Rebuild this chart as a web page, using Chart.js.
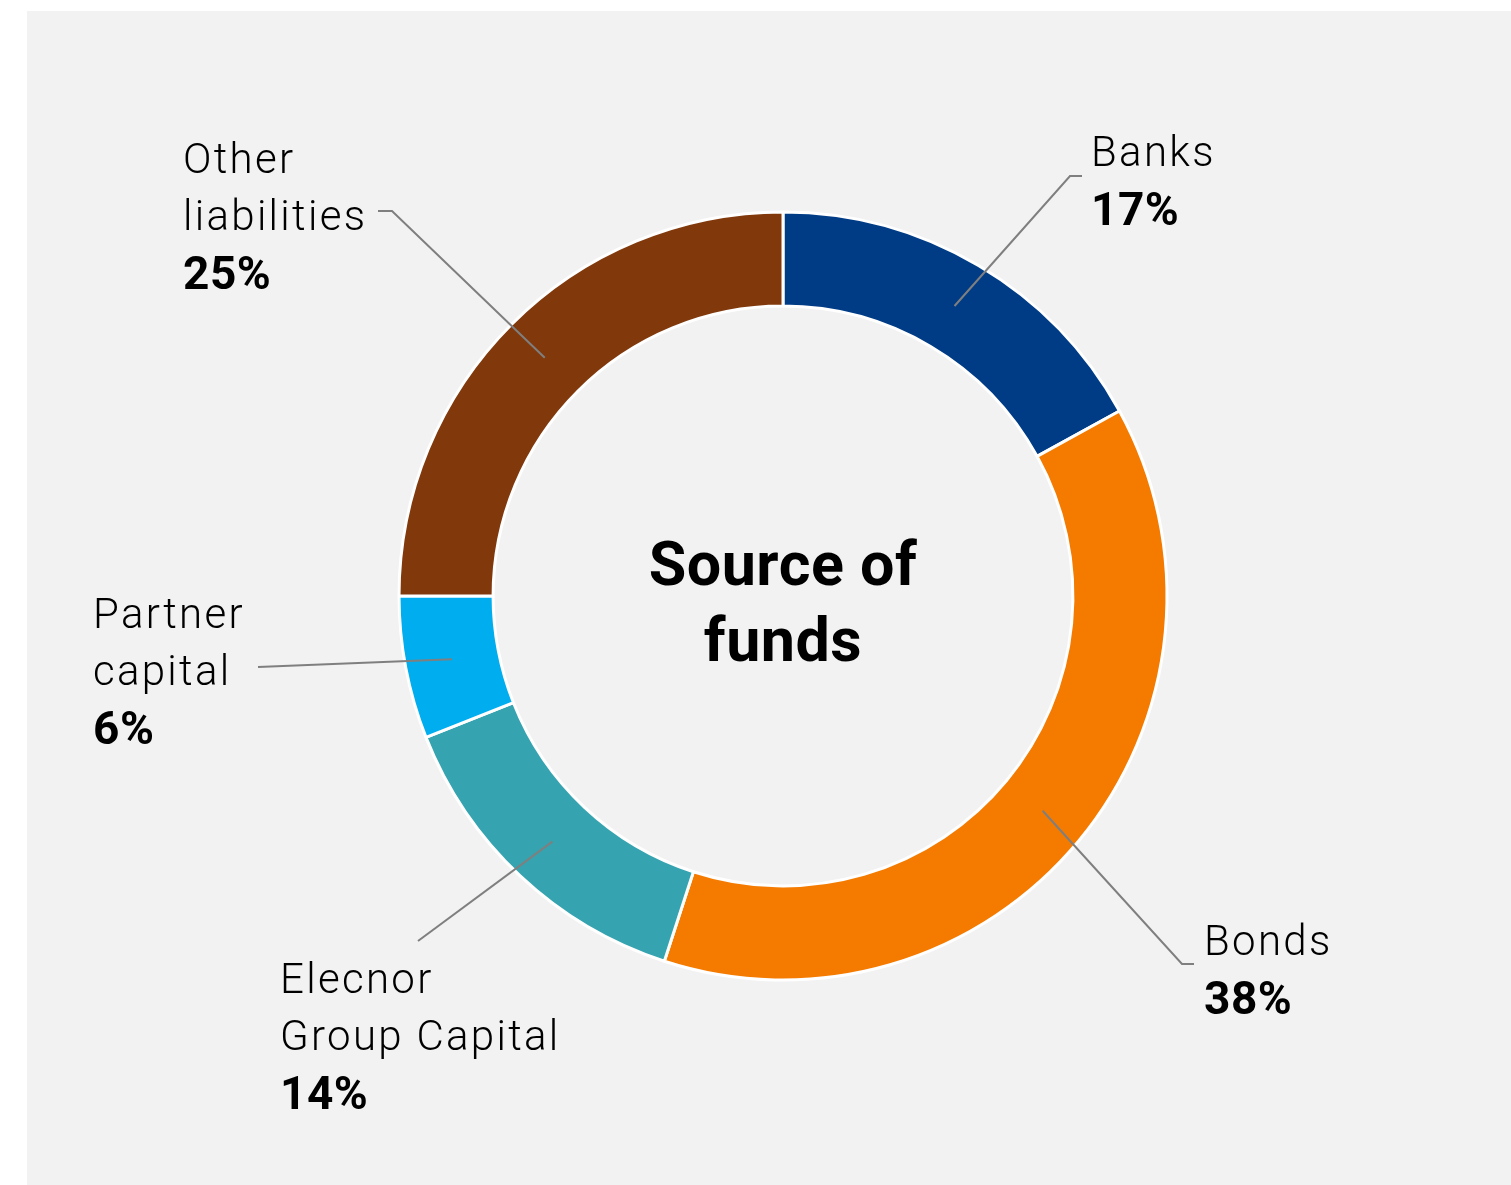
<!DOCTYPE html>
<html>
<head>
<meta charset="utf-8">
<script src="https://cdn.jsdelivr.net/npm/chart.js@4"></script>
<style>
  html, body { margin: 0; padding: 0; background: #ffffff; }
  #bg { position: absolute; left: 27px; top: 11px; right: 0; bottom: 0; background: #f2f2f2; }
  #wrap { position: absolute; left: 0; top: 0; width: 1511px; height: 1185px; }
</style>
</head>
<body>
<div id="bg"></div>
<div id="wrap"><canvas id="funds"></canvas></div>
<script>
// chart data
const categories = ["Banks", "Bonds", "Elecnor Group Capital", "Partner capital", "Other liabilities"];
const shares = [17, 38, 14, 6, 25];
const labelLines = [["Banks"], ["Bonds"], ["Elecnor", "Group Capital"], ["Partner", "capital"], ["Other", "liabilities"]];
const sliceColors = ["#003c86", "#f47b00", "#36a4b0", "#00adee", "#81390c"];
const centerTitle = ["Source of", "funds"];

// where each callout sits: text left x, first baseline, leader elbow and end
const calloutLayout = [
  { x: 1091, y: 166, elbow: [1070, 176], end: [1082, 176] },
  { x: 1204, y: 955, elbow: [1182, 964], end: [1194, 964] },
  { x: 280, y: 993, elbow: [418, 941], end: null },
  { x: 93, y: 628, elbow: [258, 667], end: null },
  { x: 183, y: 173, elbow: [392, 211], end: [378, 211] }
];

const calloutPlugin = {
  id: "callouts",
  afterDraw(chart) {
    const ctx = chart.ctx;
    const arcs = chart.getDatasetMeta(0).data;
    ctx.save();
    // leader lines
    ctx.strokeStyle = "#7f7f7f";
    ctx.lineWidth = 2;
    arcs.forEach((arc, i) => {
      const p = arc.getCenterPoint();
      const l = calloutLayout[i];
      ctx.beginPath();
      ctx.moveTo(p.x, p.y);
      ctx.lineTo(l.elbow[0], l.elbow[1]);
      if (l.end) ctx.lineTo(l.end[0], l.end[1]);
      ctx.stroke();
    });
    // label text
    ctx.fillStyle = "#000000";
    ctx.textAlign = "left";
    ctx.textBaseline = "alphabetic";
    labelLines.forEach((lines, i) => {
      const l = calloutLayout[i];
      let y = l.y;
      ctx.font = "300 42px Roboto, 'Noto Sans', sans-serif";
      ctx.letterSpacing = "2.3px";
      lines.forEach(t => {
        ctx.fillText(t, l.x, y);
        y += 57;
      });
      ctx.font = "bold 46px Roboto, 'Noto Sans', sans-serif";
      ctx.letterSpacing = "0.5px";
      ctx.fillText(shares[i] + "%", l.x, y + 2);
    });
    // center title
    const cx = (chart.chartArea.left + chart.chartArea.right) / 2;
    ctx.textAlign = "center";
    ctx.font = "bold 61px Roboto, 'Noto Sans', sans-serif";
    ctx.letterSpacing = "0.5px";
    ctx.fillText(centerTitle[0], cx, 585);
    ctx.fillText(centerTitle[1], cx, 661);
    ctx.restore();
  }
};

new Chart(document.getElementById("funds"), {
  type: "doughnut",
  data: {
    labels: categories,
    datasets: [{
      data: shares,
      backgroundColor: sliceColors,
      borderColor: "#ffffff",
      borderWidth: 3
    }]
  },
  options: {
    responsive: true,
    maintainAspectRatio: false,
    animation: false,
    radius: 384,
    cutout: "75.5%",
    layout: { padding: { left: 55, top: 7, right: 0, bottom: 0 } },
    plugins: {
      legend: { display: false },
      tooltip: { enabled: false }
    }
  },
  plugins: [calloutPlugin]
});
</script>
</body>
</html>
